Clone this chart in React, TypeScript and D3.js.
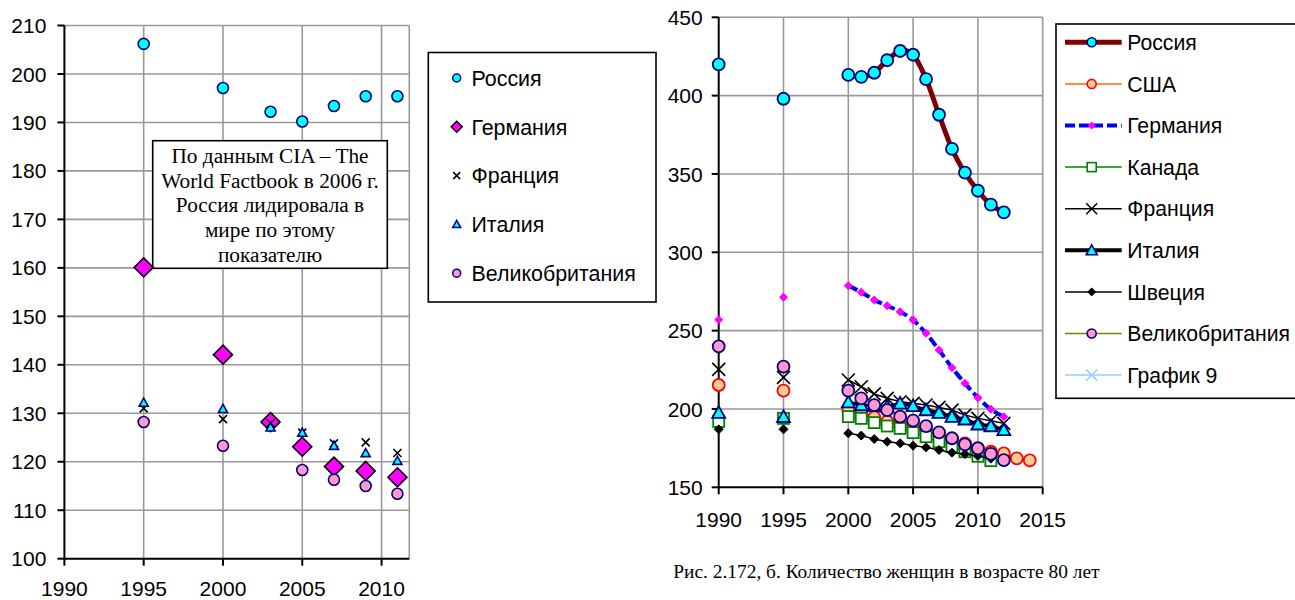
import React from "react";
import * as d3 from "d3";

// ---------- Left chart data ----------
const leftYears = [1995, 2000, 2003, 2005, 2007, 2009, 2011];
const leftRussia = [206.2, 197.1, 192.2, 190.2, 193.4, 195.4, 195.4];
const leftGermany = [160.1, 142.1, 128.2, 123.1, 119.0, 118.1, 116.8];
const leftFrance = [131.0, 128.8, 128.0, 126.0, 123.8, 124.0, 121.8];
const leftItaly = [132.2, 130.9, 127.1, 126.0, 123.3, 121.8, 120.2];
const leftUK: (number | null)[] = [128.2, 123.3, null, 118.3, 116.3, 115.0, 113.4];
const leftXTicks = [1990, 1995, 2000, 2005, 2010];
const leftYTicks = [100, 110, 120, 130, 140, 150, 160, 170, 180, 190, 200, 210];
const leftLegend = ["Россия", "Германия", "Франция", "Италия", "Великобритания"];
const noteLines = [
  "По данным CIA – The",
  "World Factbook в 2006 г.",
  "Россия лидировала в",
  "мире по этому",
  "показателю",
];

// ---------- Right chart data ----------
const rightYears = [1990, 1995, 2000, 2001, 2002, 2003, 2004, 2005, 2006, 2007, 2008, 2009, 2010, 2011, 2012, 2013, 2014];
const rRussia = [420, 398, 413.2, 412, 414.6, 422.6, 428.5, 426.1, 410.6, 387.8, 366, 350.8, 339.3, 330.4, 325.5, null, null];
const rUSA = [215.3, 211.7, 199, 197, 194.7, 192, 190.5, 188.5, 186.5, 184, 181, 178, 175, 172.7, 171.6, 168.5, 167.2];
const rGermany = [257, 271.3, 278.7, 274.5, 269.6, 265.9, 262.1, 256.8, 248.3, 237.6, 226.3, 216.4, 207.2, 199.8, 195, null, null];
const rCanada = [192, 194, 195.1, 194, 191.3, 189.1, 187.6, 184.9, 182.3, 179.1, 176, 172.7, 169.8, 167, null, null, null];
const rFrance = [225.3, 220.2, 218.5, 214.2, 209.6, 206.8, 204.6, 203.6, 202.5, 201, 199.3, 196.1, 194, 192.5, 190.8, null, null];
const rItaly = [197.6, 195, 204.3, 202.5, 201.9, 201.5, 203.6, 201.9, 199.3, 197.6, 195.1, 193.4, 190.2, 189.1, 186.6, null, null];
const rSweden = [187, 187, 184.5, 183, 180.8, 179.1, 178.1, 176.6, 175.5, 173.8, 172.1, 171.2, 170, 168.3, null, null, null];
const rUK = [240, 227, 211.7, 206.8, 202.5, 199.3, 195.1, 192.5, 189.1, 185.1, 181.3, 177.4, 174.9, 171.3, 167.4, null, null];
const rightXTicks = [1990, 1995, 2000, 2005, 2010, 2015];
const rightYTicks = [150, 200, 250, 300, 350, 400, 450];
const rightLegend = ["Россия", "США", "Германия", "Канада", "Франция", "Италия", "Швеция", "Великобритания", "График 9"];
const caption = "Рис. 2.172, б. Количество женщин в возрасте 80 лет";

const SANS = "'Liberation Sans', Arial, sans-serif";
const SERIF = "'Liberation Serif', 'Times New Roman', serif";
const GRID = "#999999";

type MarkerKind = "circle" | "diamond" | "x" | "triangle" | "square";
interface MStyle {
  kind: MarkerKind;
  size: number;
  fill: string;
  stroke: string;
  sw: number;
}

function Marker({ x, y, m }: { x: number; y: number; m: MStyle }) {
  const s = m.size;
  if (m.kind === "circle")
    return <circle cx={x} cy={y} r={s} fill={m.fill} stroke={m.stroke} strokeWidth={m.sw} />;
  if (m.kind === "diamond")
    return (
      <path
        d={`M${x},${y - s}L${x + s},${y}L${x},${y + s}L${x - s},${y}Z`}
        fill={m.fill}
        stroke={m.stroke}
        strokeWidth={m.sw}
      />
    );
  if (m.kind === "square")
    return <rect x={x - s} y={y - s} width={2 * s} height={2 * s} fill={m.fill} stroke={m.stroke} strokeWidth={m.sw} />;
  if (m.kind === "triangle")
    return (
      <path
        d={`M${x},${y - s}L${x + s},${y + s * 0.8}L${x - s},${y + s * 0.8}Z`}
        fill={m.fill}
        stroke={m.stroke}
        strokeWidth={m.sw}
      />
    );
  return (
    <path
      d={`M${x - s},${y - s}L${x + s},${y + s}M${x - s},${y + s}L${x + s},${y - s}`}
      stroke={m.stroke}
      strokeWidth={m.sw}
      fill="none"
    />
  );
}

// ---------- styles ----------
const leftMarkers: MStyle[] = [
  { kind: "circle", size: 5.5, fill: "#00FFFF", stroke: "#000080", sw: 1.6 },
  { kind: "diamond", size: 9.5, fill: "#FF00FF", stroke: "#000000", sw: 1.6 },
  { kind: "x", size: 4, fill: "none", stroke: "#000000", sw: 1.6 },
  { kind: "triangle", size: 4.5, fill: "#00FFFF", stroke: "#000080", sw: 1.6 },
  { kind: "circle", size: 5.5, fill: "#FF99CC", stroke: "#000080", sw: 1.6 },
];
const leftLegendMarkers: MStyle[] = [
  { kind: "circle", size: 4, fill: "#00FFFF", stroke: "#000080", sw: 1.5 },
  { kind: "diamond", size: 5.5, fill: "#FF00FF", stroke: "#000000", sw: 1.5 },
  { kind: "x", size: 3.5, fill: "none", stroke: "#000000", sw: 1.5 },
  { kind: "triangle", size: 4, fill: "#00FFFF", stroke: "#000080", sw: 1.5 },
  { kind: "circle", size: 4, fill: "#FF99CC", stroke: "#000080", sw: 1.5 },
];

interface RSeries {
  values: (number | null)[];
  line: string;
  lw: number;
  dash?: string;
  smooth?: boolean;
  m: MStyle;
}
const rightStyles: RSeries[] = [
  { values: rRussia, line: "#800000", lw: 5, smooth: true, m: { kind: "circle", size: 6, fill: "#00FFFF", stroke: "#000080", sw: 1.8 } },
  { values: rUSA, line: "#FF6600", lw: 1.5, m: { kind: "circle", size: 6, fill: "#FFCC99", stroke: "#FF0000", sw: 1.8 } },
  { values: rGermany, line: "#0000FF", lw: 4, dash: "10 4", smooth: true, m: { kind: "diamond", size: 4.5, fill: "#FF00FF", stroke: "none", sw: 0 } },
  { values: rCanada, line: "#008000", lw: 1.5, m: { kind: "square", size: 5.5, fill: "#FFFFFF", stroke: "#008000", sw: 1.8 } },
  { values: rFrance, line: "#000000", lw: 1.5, m: { kind: "x", size: 6.5, fill: "none", stroke: "#000000", sw: 1.6 } },
  { values: rItaly, line: "#000000", lw: 3.5, m: { kind: "triangle", size: 6.5, fill: "#00FFFF", stroke: "#000080", sw: 1.8 } },
  { values: rSweden, line: "#000000", lw: 1.5, m: { kind: "diamond", size: 4.5, fill: "#000000", stroke: "#000000", sw: 1 } },
  { values: rUK, line: "#808000", lw: 1.5, m: { kind: "circle", size: 6, fill: "#FF99CC", stroke: "#000080", sw: 1.8 } },
];
const legendRightStyles: { line: string; lw: number; dash?: string; m: MStyle }[] = [
  { line: "#800000", lw: 5, m: { kind: "circle", size: 4.5, fill: "#00FFFF", stroke: "#000080", sw: 1.6 } },
  { line: "#FF6600", lw: 1.5, m: { kind: "circle", size: 4.5, fill: "#FFCC99", stroke: "#FF0000", sw: 1.6 } },
  { line: "#0000FF", lw: 4, dash: "10 4", m: { kind: "diamond", size: 4, fill: "#FF00FF", stroke: "none", sw: 0 } },
  { line: "#008000", lw: 1.5, m: { kind: "square", size: 4.5, fill: "#FFFFFF", stroke: "#008000", sw: 1.6 } },
  { line: "#000000", lw: 1.5, m: { kind: "x", size: 5.5, fill: "none", stroke: "#000000", sw: 1.5 } },
  { line: "#000000", lw: 4, m: { kind: "triangle", size: 5.5, fill: "#00FFFF", stroke: "#000080", sw: 1.6 } },
  { line: "#000000", lw: 1.5, m: { kind: "diamond", size: 4, fill: "#000000", stroke: "#000000", sw: 1 } },
  { line: "#808000", lw: 1.5, m: { kind: "circle", size: 4.5, fill: "#FF99CC", stroke: "#000080", sw: 1.6 } },
  { line: "#99CCFF", lw: 1.5, m: { kind: "x", size: 5.5, fill: "none", stroke: "#99CCFF", sw: 1.5 } },
];

export default function App() {
  // scales
  const xL = d3.scaleLinear().domain([1990, 2011.75]).range([64.4, 409.3]);
  const yL = d3.scaleLinear().domain([100, 210]).range([558.7, 25.5]);
  const xR = d3.scaleLinear().domain([1990, 2015]).range([718.7, 1042.7]);
  const yR = d3.scaleLinear().domain([150, 450]).range([487.3, 17.3]);

  const leftSeries = [leftRussia, leftGermany, leftFrance, leftItaly, leftUK];
  const [lx0, lx1] = xL.range();
  const [ly0, ly1] = yL.range();
  const [rx0, rx1] = xR.range();
  const [ry0, ry1] = yR.range();

  const mkLine = (smooth?: boolean) =>
    d3
      .line<number | null>()
      .defined((d, i) => d != null && rightYears[i] >= 2000)
      .x((_, i) => xR(rightYears[i]))
      .y((d) => yR(d as number))
      .curve(smooth ? d3.curveCatmullRom.alpha(0) : d3.curveLinear);

  const noteBox = { x: 152.7, y: 140.7, w: 234.6, h: 127.6 };

  return (
    <svg
      width={1295}
      height={600}
      style={{ position: "absolute", left: 0, top: 0, background: "#fff" }}
      fontFamily={SANS}
    >
      <rect x={0} y={0} width={1295} height={600} fill="#fff" />
      {/* ===== LEFT CHART ===== */}
      <g>
        {leftXTicks.slice(1).map((t) => (
          <line key={"lgx" + t} x1={xL(t)} x2={xL(t)} y1={ly0} y2={ly1} stroke={GRID} strokeWidth={1.6} />
        ))}
        <line x1={lx1} x2={lx1} y1={ly0} y2={ly1} stroke={GRID} strokeWidth={1.6} />
        {leftYTicks.slice(1).map((t) => (
          <line key={"lgy" + t} x1={lx0} x2={lx1} y1={yL(t)} y2={yL(t)} stroke={GRID} strokeWidth={1.6} />
        ))}
        <line x1={lx0} x2={lx0} y1={ly0 + 1} y2={ly1} stroke="#000" strokeWidth={2} />
        <line x1={lx0} x2={lx1} y1={ly0} y2={ly0} stroke="#000" strokeWidth={2} />
        {leftYTicks.map((t) => (
          <g key={"lyt" + t}>
            <line x1={lx0 - 7} x2={lx0} y1={yL(t)} y2={yL(t)} stroke="#000" strokeWidth={2} />
            <text x={lx0 - 18} y={yL(t)} dy="0.36em" textAnchor="end" fontSize={21}>
              {t}
            </text>
          </g>
        ))}
        {leftXTicks.map((t) => (
          <g key={"lxt" + t}>
            <line x1={xL(t)} x2={xL(t)} y1={ly0} y2={ly0 + 7} stroke="#000" strokeWidth={2} />
            <text x={xL(t)} y={ly0 + 30} dy="0.36em" textAnchor="middle" fontSize={21}>
              {t}
            </text>
          </g>
        ))}
        {/* note box */}
        <rect x={noteBox.x} y={noteBox.y} width={noteBox.w} height={noteBox.h} fill="#fff" stroke="#000" strokeWidth={1.6} />
        {noteLines.map((s, i) => (
          <text
            key={"nl" + i}
            x={noteBox.x + noteBox.w / 2}
            y={noteBox.y + 15 + i * 24.6}
            dy="0.35em"
            textAnchor="middle"
            fontFamily={SERIF}
            fontSize={21.3}
          >
            {s}
          </text>
        ))}
        {/* data */}
        {leftSeries.map((vals, si) =>
          vals.map((v, i) =>
            v == null ? null : <Marker key={`lm${si}-${i}`} x={xL(leftYears[i])} y={yL(v)} m={leftMarkers[si]} />
          )
        )}
        {/* legend */}
        <rect x={428.3} y={52.5} width={227.7} height={249.5} fill="#fff" stroke="#000" strokeWidth={1.6} />
        {leftLegend.map((name, i) => {
          const cy = 78 + i * 48.8;
          return (
            <g key={"ll" + i}>
              <Marker x={456.7} y={cy} m={leftLegendMarkers[i]} />
              <text x={471.5} y={cy} dy="0.36em" fontSize={21.4}>
                {name}
              </text>
            </g>
          );
        })}
      </g>

      {/* ===== RIGHT CHART ===== */}
      <g>
        {rightXTicks.slice(1).map((t) => (
          <line key={"rgx" + t} x1={xR(t)} x2={xR(t)} y1={ry0} y2={ry1} stroke={GRID} strokeWidth={1.6} />
        ))}
        {rightYTicks.slice(1).map((t) => (
          <line key={"rgy" + t} x1={rx0} x2={rx1} y1={yR(t)} y2={yR(t)} stroke={GRID} strokeWidth={1.6} />
        ))}
        <line x1={rx0} x2={rx0} y1={ry0 + 1} y2={ry1} stroke="#000" strokeWidth={2} />
        <line x1={rx0} x2={rx1} y1={ry0} y2={ry0} stroke="#000" strokeWidth={2} />
        {rightYTicks.map((t) => (
          <g key={"ryt" + t}>
            <line x1={rx0 - 7} x2={rx0} y1={yR(t)} y2={yR(t)} stroke="#000" strokeWidth={2} />
            <text x={rx0 - 16} y={yR(t)} dy="0.36em" textAnchor="end" fontSize={21}>
              {t}
            </text>
          </g>
        ))}
        {rightXTicks.map((t) => (
          <g key={"rxt" + t}>
            <line x1={xR(t)} x2={xR(t)} y1={ry0} y2={ry0 + 7} stroke="#000" strokeWidth={2} />
            <text x={xR(t)} y={ry0 + 32} dy="0.36em" textAnchor="middle" fontSize={21}>
              {t}
            </text>
          </g>
        ))}
        {rightStyles.map((s, si) => (
          <g key={"rs" + si}>
            <path
              d={mkLine(s.smooth)(s.values) || ""}
              fill="none"
              stroke={s.line}
              strokeWidth={s.lw}
              strokeDasharray={s.dash}
              strokeLinejoin="round"
            />
            {s.values.map((v, i) =>
              v == null ? null : <Marker key={`rm${si}-${i}`} x={xR(rightYears[i])} y={yR(v)} m={s.m} />
            )}
          </g>
        ))}
        {/* legend */}
        <rect x={1056} y={24} width={260} height={374.3} fill="#fff" stroke="#000" strokeWidth={1.6} />
        {rightLegend.map((name, i) => {
          const cy = 42.3 + i * 41.6;
          const st = legendRightStyles[i];
          return (
            <g key={"rl" + i}>
              <line x1={1065} x2={1121.7} y1={cy} y2={cy} stroke={st.line} strokeWidth={st.lw} strokeDasharray={st.dash} />
              <Marker x={1091.7} y={cy} m={st.m} />
              <text x={1127.3} y={cy} dy="0.36em" fontSize={21.2}>
                {name}
              </text>
            </g>
          );
        })}
      </g>

      <text x={673.3} y={571.7} dy="0.35em" fontFamily={SERIF} fontSize={19.4}>
        {caption}
      </text>
    </svg>
  );
}
